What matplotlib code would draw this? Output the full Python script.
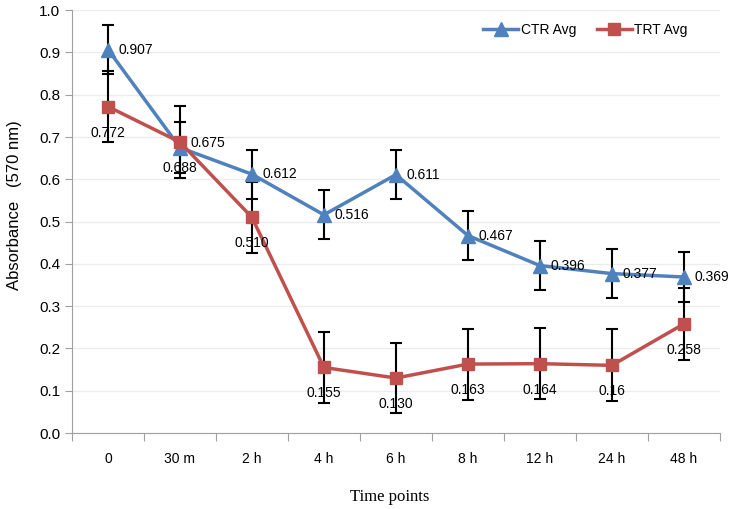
import numpy as np
import matplotlib
matplotlib.use("Agg")
import matplotlib.pyplot as plt

time_points = ["0", "30 m", "2 h", "4 h", "6 h", "8 h", "12 h", "24 h", "48 h"]
ctr_avg = [0.907, 0.675, 0.612, 0.516, 0.611, 0.467, 0.396, 0.377, 0.369]
ctr_err = [0.058, 0.060, 0.058, 0.058, 0.058, 0.058, 0.058, 0.058, 0.058]
trt_avg = [0.772, 0.688, 0.510, 0.155, 0.130, 0.163, 0.164, 0.160, 0.258]
trt_err = [0.084, 0.085, 0.084, 0.085, 0.083, 0.084, 0.084, 0.085, 0.085]
ctr_text = ["0.907", "0.675", "0.612", "0.516", "0.611", "0.467", "0.396", "0.377", "0.369"]
trt_text = ["0.772", "0.688", "0.510", "0.155", "0.130", "0.163", "0.164", "0.16", "0.258"]

font = "Liberation Sans"
blue = "#4F81BD"
red = "#C0504D"

fig = plt.figure(figsize=(7.33, 5.09), dpi=100)
ax = fig.add_axes([0.0982, 0.1493, 0.8838, 0.8307])
x = np.arange(len(time_points))

ax.errorbar(x, ctr_avg, yerr=ctr_err, fmt="none", ecolor="black", elinewidth=1.5, capsize=4, capthick=1.5, zorder=2)
ax.errorbar(x, trt_avg, yerr=trt_err, fmt="none", ecolor="black", elinewidth=1.5, capsize=4, capthick=1.5, zorder=2)
ax.plot(x, ctr_avg, color=blue, lw=2.5, marker="^", ms=10, label="CTR Avg", zorder=3)
ax.plot(x, trt_avg, color=red, lw=2.5, marker="s", ms=9, label="TRT Avg", zorder=3)

for i, t in enumerate(ctr_text):
    dy = 0.0 if i != 1 else 0.01
    ax.text(x[i] + 0.15, ctr_avg[i] + dy, t, fontsize=10, family=font, va="center", ha="left", zorder=4)
for i, t in enumerate(trt_text):
    ax.text(x[i], trt_avg[i] - 0.045, t, fontsize=10, family=font, va="top", ha="center", zorder=4)

ax.set_xlim(-0.5, 8.5)
ax.set_ylim(0, 1.0)
ax.set_yticks(np.arange(0, 1.01, 0.1))
ax.set_yticklabels([f"{v:.1f}" for v in np.arange(0, 1.01, 0.1)], family=font, fontsize=11)
ax.set_xticks(np.arange(-0.5, 9, 1.0))
ax.set_xticklabels([])
ax.set_xticks(x, minor=True)
ax.set_xticklabels(time_points, minor=True, family=font, fontsize=10)
ax.tick_params(axis="x", which="major", length=6, color="#a0a0a0")
ax.tick_params(axis="x", which="minor", length=0, pad=14)
ax.tick_params(axis="y", length=5, color="#a0a0a0")
ax.grid(axis="y", color="#ececec", lw=1)
ax.set_axisbelow(True)
for s in ["top", "right"]:
    ax.spines[s].set_visible(False)
for s in ["left", "bottom"]:
    ax.spines[s].set_color("#a0a0a0")

ax.set_ylabel("Absorbance   (570 nm)", fontsize=12, family=font)
ax.yaxis.set_label_coords(-0.077, 0.54)
ax.set_xlabel("Time points", fontsize=12, family="Liberation Serif")
ax.xaxis.set_label_coords(0.49, -0.133)
ax.legend(loc="upper right", bbox_to_anchor=(0.97, 1.0), ncol=2, frameon=False,
          prop={"family": font, "size": 10}, handlelength=2.5, columnspacing=1.5, handletextpad=0.2)

fig.savefig("out.png", dpi=100)
